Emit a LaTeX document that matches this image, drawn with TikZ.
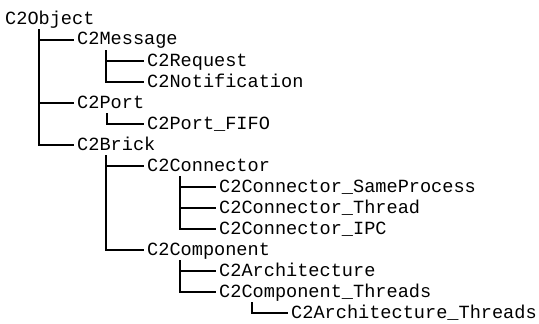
\documentclass[tikz,border=0pt]{standalone}
\usepackage{fontspec}
\setmonofont{Liberation Mono}
\begin{document}
\begin{tikzpicture}[x=1pt,y=1pt,
  cls/.style={anchor=west,inner sep=0pt,font=\fontsize{18.6}{20}\ttfamily,text height=12pt,text depth=0pt},
  link/.style={line width=1.8pt,line cap=butt}]
\useasboundingbox (0,0) rectangle (539,-324);
\fill[white] (0,0) rectangle (539,-324);
\node[cls] (obj)   at (5,-18)  {C2Object};
\node[cls] (msg)   at (77,-39) {C2Message};
\node[cls] (req)   at (147,-60) {C2Request};
\node[cls] (notif) at (147,-81) {C2Notification};
\node[cls] (port)  at (77,-102) {C2Port};
\node[cls] (fifo)  at (147,-123) {C2Port\_FIFO};
\node[cls] (brick) at (77,-144) {C2Brick};
\node[cls] (conn)  at (147,-165) {C2Connector};
\node[cls] (csp)   at (219,-186) {C2Connector\_SameProcess};
\node[cls] (cth)   at (219,-207) {C2Connector\_Thread};
\node[cls] (cipc)  at (219,-228) {C2Connector\_IPC};
\node[cls] (comp)  at (147,-249) {C2Component};
\node[cls] (arch)  at (219,-270) {C2Architecture};
\node[cls] (compth) at (219,-291) {C2Component\_Threads};
\node[cls] (archth) at (291,-312) {C2Architecture\_Threads};
\foreach \p/\c/\d in {obj/msg/34,obj/port/34,obj/brick/34,msg/req/29,msg/notif/29,port/fifo/30,brick/conn/29,brick/comp/29,conn/csp/33,conn/cth/33,conn/cipc/33,comp/arch/33,comp/compth/33,compth/archth/33}
  \draw[link] ([xshift=\d pt,yshift=-11pt]\p.west) |- ([xshift=-3pt,yshift=-1pt]\c.west);
\end{tikzpicture}
\end{document}
